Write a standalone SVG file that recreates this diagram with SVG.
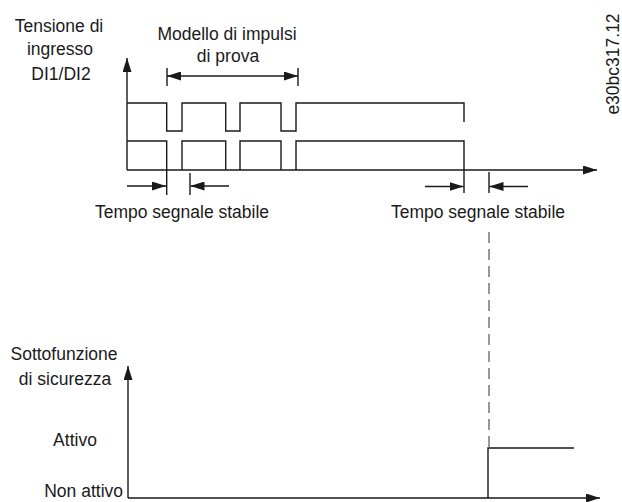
<svg xmlns="http://www.w3.org/2000/svg" width="622" height="502" viewBox="0 0 622 502">
<defs>
<style>
text{font-family:"Liberation Sans",Arial,sans-serif;font-size:17.5px;fill:#1a1a1a}
.m{text-anchor:middle}
.e{text-anchor:end}
.ln{fill:none;stroke:#1a1a1a;stroke-width:1.4}
.dash{fill:none;stroke:#6d6d6d;stroke-width:1.4;stroke-dasharray:11 6}
</style>
<marker id="ah" viewBox="0 0 14 9" refX="14" refY="4.5" markerWidth="14" markerHeight="9" markerUnits="userSpaceOnUse" orient="auto-start-reverse">
<path d="M0,0 L14,4.5 L0,9 Z" fill="#1a1a1a"/>
</marker>
</defs>
<rect width="622" height="502" fill="#fff"/>

<g id="labels">
<text class="m" x="59" y="32">Tensione di</text>
<text class="m" x="60" y="55">ingresso</text>
<text class="m" x="61" y="80">DI1/DI2</text>
<text class="m" x="227" y="40">Modello di impulsi</text>
<text class="m" x="228" y="62">di prova</text>
<text class="m" x="182" y="218">Tempo segnale stabile</text>
<text class="m" x="478" y="218">Tempo segnale stabile</text>
<text class="m" x="64" y="360">Sottofunzione</text>
<text class="m" x="65" y="385">di sicurezza</text>
<text class="m" x="75" y="446">Attivo</text>
<text class="e" x="123" y="497">Non attivo</text>
<text class="m" transform="translate(619,64) rotate(-90)">e30bc317.12</text>
</g>

<g id="axes">
<path class="ln" d="M127,170 V58" marker-end="url(#ah)"/>
<path class="ln" d="M127,170 H597" marker-end="url(#ah)"/>
<path class="ln" d="M128,498 V366" marker-end="url(#ah)"/>
<path class="ln" d="M128,498 H600" marker-end="url(#ah)"/>
</g>

<g id="signals">
<path class="ln" d="M127,103 H166.7 V131 H182 V103 H225.7 V131 H240 V103 H281 V131 H296 V103 H464 V122"/>
<path class="ln" d="M127,141 H166.7 V170 M182,170 V141 H225.7 V170 M240,170 V141 H281 V170 M296,170 V141 H464 V170"/>
<path class="ln" d="M488,498 V448 H574"/>
</g>

<g id="connectors">
<path class="ln" d="M167,68 V86 M298,68 V86"/>
<path class="ln" d="M167,76 H298" marker-start="url(#ah)" marker-end="url(#ah)"/>
<path class="ln" d="M166.7,170 V195 M190,173 V195"/>
<path class="ln" d="M127,186 H166" marker-end="url(#ah)"/>
<path class="ln" d="M229,186 H190.5" marker-end="url(#ah)"/>
<path class="ln" d="M464,170 V193 M489,172 V193"/>
<path class="ln" d="M425,186.5 H463.5" marker-end="url(#ah)"/>
<path class="ln" d="M528,186.5 H489.5" marker-end="url(#ah)"/>
<path class="dash" d="M489,232 V448"/>
</g>
</svg>
